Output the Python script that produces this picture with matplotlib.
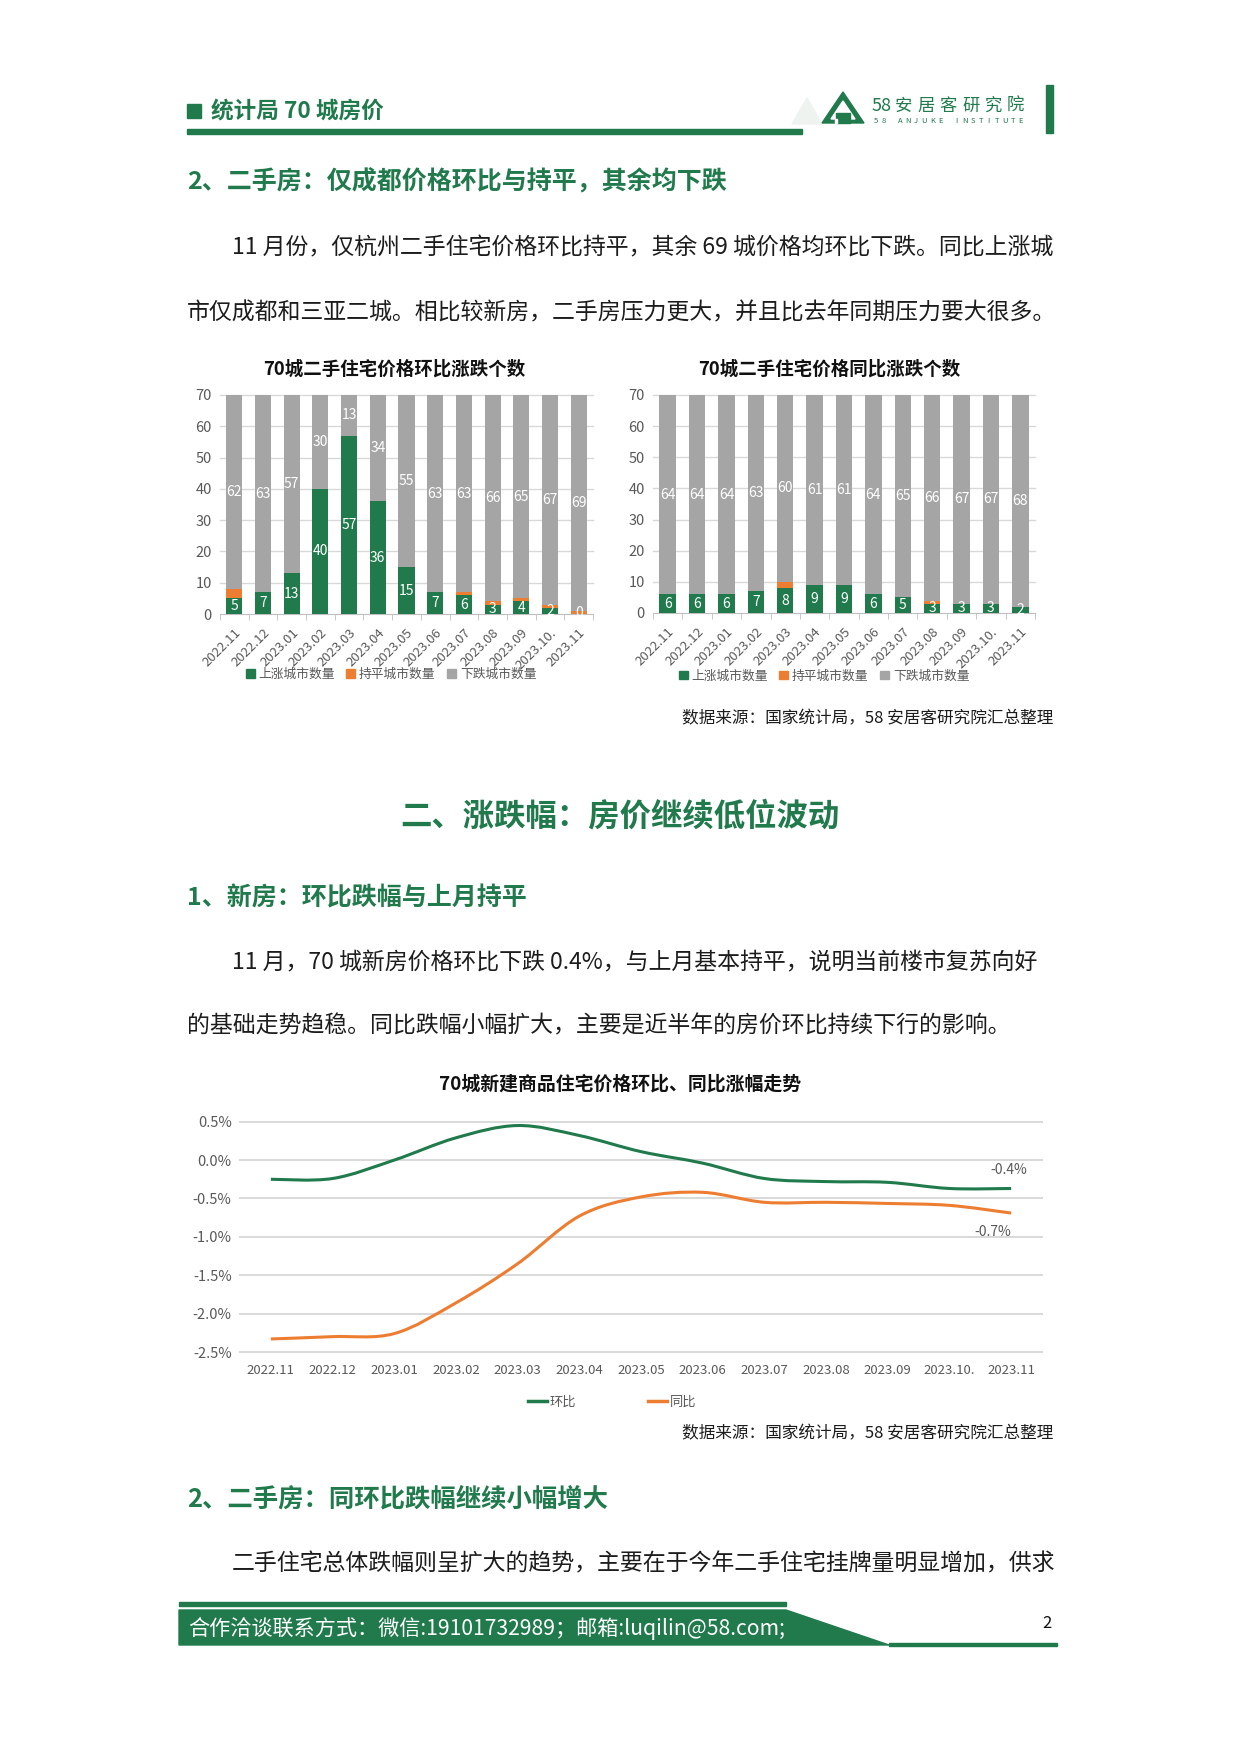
import numpy as np
import matplotlib
matplotlib.use("Agg")
import matplotlib.pyplot as plt
from matplotlib.path import Path
from matplotlib.patches import PathPatch, Polygon, Rectangle, Patch
from matplotlib.lines import Line2D

plt.rcParams['font.family'] = ['Noto Sans CJK SC', 'DejaVu Sans']

# ---- data -------------------------------------------------------------
months = ['2022.11', '2022.12', '2023.01', '2023.02', '2023.03', '2023.04', '2023.05',
          '2023.06', '2023.07', '2023.08', '2023.09', '2023.10.', '2023.11']

# 二手住宅 环比 涨跌个数
mom_up = [5, 7, 13, 40, 57, 36, 15, 7, 6, 3, 4, 2, 0]
mom_flat = [3, 0, 0, 0, 0, 0, 0, 0, 1, 1, 1, 1, 1]
mom_down = [62, 63, 57, 30, 13, 34, 55, 63, 63, 66, 65, 67, 69]

# 二手住宅 同比 涨跌个数
yoy_up = [6, 6, 6, 7, 8, 9, 9, 6, 5, 3, 3, 3, 2]
yoy_flat = [0, 0, 0, 0, 2, 0, 0, 0, 0, 1, 0, 0, 0]
yoy_down = [64, 64, 64, 63, 60, 61, 61, 64, 65, 66, 67, 67, 68]

# 新建商品住宅 涨幅 (%)
new_mom = [-0.25, -0.24, 0.0, 0.29, 0.45, 0.32, 0.11, -0.04, -0.24, -0.28, -0.29, -0.37, -0.37]
new_yoy = [-2.33, -2.30, -2.26, -1.86, -1.35, -0.73, -0.48, -0.42, -0.55, -0.55, -0.565, -0.59, -0.69]

bar_legend = ['上涨城市数量', '持平城市数量', '下跌城市数量']
line_legend = ['环比', '同比']

# ---- styles -----------------------------------------------------------
GREEN = '#207a4c'
ORANGE = '#ed7d31'
GRAY = '#a5a5a5'
TXT = '#1c1c1c'
AXT = '#595959'
GRID = '#d9d9d9'
W, H = 1240, 1753

fig = plt.figure(figsize=(W / 100, H / 100), dpi=100)
page = fig.add_axes([0, 0, 1, 1], zorder=0)
page.set_xlim(0, W)
page.set_ylim(H, 0)
page.axis('off')


def box(left, top, right, bottom):
    return [left / W, 1 - bottom / H, (right - left) / W, (bottom - top) / H]


def txt(x, y, s, size, color=TXT, ha='left', weight='normal', **kw):
    page.text(x, y, s, fontsize=size, color=color, ha=ha, va='center', fontweight=weight, **kw)


# ---- header -----------------------------------------------------------
page.add_patch(Rectangle((187, 104), 14, 14, color=GREEN))
txt(211, 111, '统计局 70 城房价', 16.3, GREEN, weight='bold')
page.add_patch(Rectangle((187, 129), 615, 4.5, color=GREEN))
page.add_patch(Rectangle((1046, 85), 7, 48, color=GREEN))

# logo
page.add_patch(Polygon([(792, 124), (807, 98), (822, 124)], closed=True, color='#eef3f0'))
page.add_patch(Polygon([(822, 123), (843, 92), (864, 123)], closed=True, color=GREEN))
page.add_patch(Polygon([(831, 119), (843, 101), (855, 119)], closed=True, color='white'))
page.add_patch(Rectangle((836, 113), 14, 10, color=GREEN))
page.add_patch(Rectangle((835, 119), 2, 4, color='white'))
page.text(872, 106, '58', fontsize=13, color=GREEN, ha='left', va='center')
for k, ch in enumerate('安居客研究院'):
    page.text(903.5 + 22.4 * k, 106, ch, fontsize=12.5, color=GREEN, ha='center', va='center')
for k, ch in enumerate('58 ANJUKE INSTITUTE'):
    page.text(876 + 8.05 * k, 121, ch, fontsize=5.5, color=GREEN, ha='center', va='center')

# ---- text blocks ------------------------------------------------------
txt(187, 182, '2、二手房：仅成都价格环比与持平，其余均下跌', 18, GREEN, weight='bold')
txt(232, 248, '11 月份，仅杭州二手住宅价格环比持平，其余 69 城价格均环比下跌。同比上涨城', 16.5)
txt(187, 313, '市仅成都和三亚二城。相比较新房，二手房压力更大，并且比去年同期压力要大很多。', 16.5)

txt(394, 369, '70城二手住宅价格环比涨跌个数', 13.3, '#111111', ha='center', weight='bold')
txt(829, 369, '70城二手住宅价格同比涨跌个数', 13.3, '#111111', ha='center', weight='bold')
txt(1053, 719, '数据来源：国家统计局，58 安居客研究院汇总整理', 12, TXT, ha='right')

txt(620, 816, '二、涨跌幅：房价继续低位波动', 22.6, GREEN, ha='center', weight='bold')
txt(187, 898, '1、新房：环比跌幅与上月持平', 18, GREEN, weight='bold')
txt(232, 963, '11 月，70 城新房价格环比下跌 0.4%，与上月基本持平，说明当前楼市复苏向好', 16.5)
txt(187, 1026, '的基础走势趋稳。同比跌幅小幅扩大，主要是近半年的房价环比持续下行的影响。', 16.5)
txt(620, 1084, '70城新建商品住宅价格环比、同比涨幅走势', 13.6, '#111111', ha='center', weight='bold')
txt(1053, 1434, '数据来源：国家统计局，58 安居客研究院汇总整理', 12, TXT, ha='right')
txt(187, 1499, '2、二手房：同环比跌幅继续小幅增大', 18.3, GREEN, weight='bold')
txt(232, 1564, '二手住宅总体跌幅则呈扩大的趋势，主要在于今年二手住宅挂牌量明显增加，供求', 16.5)

# ---- footer -----------------------------------------------------------
page.add_patch(Rectangle((179, 1602), 607, 3.5, color=GREEN))
page.add_patch(Polygon([(179, 1610), (786, 1610), (889, 1645), (179, 1645)], closed=True, color=GREEN))
page.add_patch(Rectangle((889, 1643), 168, 2.5, color=GREEN))
txt(188, 1629, '合作洽谈联系方式：微信:19101732989；邮箱:luqilin@58.com;', 15.2, 'white')
txt(1047, 1624, '2', 12, '#111111', ha='center')


# ---- bar charts -------------------------------------------------------
def bar_panel(rect, up, flat, down, label_zero, legend_center):
    ax = fig.add_axes(rect, zorder=2)
    ax.set_facecolor('none')
    x = np.arange(len(months))
    up = np.array(up)
    flat = np.array(flat)
    down = np.array(down)
    ax.bar(x, up, 0.56, color=GREEN, zorder=3)
    ax.bar(x, flat, 0.56, bottom=up, color=ORANGE, zorder=3)
    ax.bar(x, down, 0.56, bottom=up + flat, color=GRAY, zorder=3)
    for i in x:
        if up[i] > 0 or label_zero:
            ax.text(i, max(up[i] / 2, 0.4), str(up[i]), color='white', fontsize=10,
                    ha='center', va='center', zorder=4)
        ax.text(i, up[i] + flat[i] + down[i] / 2, str(down[i]), color='white', fontsize=10,
                ha='center', va='center', zorder=4)
    ax.set_xlim(-0.5, len(months) - 0.5)
    ax.set_ylim(0, 70)
    ax.set_yticks(range(0, 71, 10))
    for v in range(10, 71, 10):
        ax.axhline(v, color=GRID, lw=1, zorder=1, clip_on=False)
    for s in ['top', 'right', 'left']:
        ax.spines[s].set_visible(False)
    ax.spines['bottom'].set_color('#bfbfbf')
    ax.set_xticks(x)
    ax.set_xticklabels(months, rotation=45, ha='right', va='top', rotation_mode='anchor',
                       fontsize=9.5, color=AXT)
    ax.set_xticks(np.arange(-0.5, len(months), 1), minor=True)
    ax.tick_params(axis='x', which='major', length=0, pad=9)
    ax.tick_params(axis='x', which='minor', length=4, color='#bfbfbf')
    ax.tick_params(axis='y', length=0, labelsize=10.5, labelcolor=AXT, pad=6)
    handles = [Patch(color=GREEN), Patch(color=ORANGE), Patch(color=GRAY)]
    ax.legend(handles, bar_legend, ncol=3, loc='center', frameon=False,
              bbox_to_anchor=(legend_center[0] / W, 1 - legend_center[1] / H),
              bbox_transform=fig.transFigure, fontsize=9.2, labelcolor=AXT,
              handlelength=0.7, handleheight=0.7, handletextpad=0.3, columnspacing=0.9)
    return ax


bar_panel(box(220, 395, 593, 614), mom_up, mom_flat, mom_down, True, (391, 674))
bar_panel(box(653, 395, 1035, 613), yoy_up, yoy_flat, yoy_down, False, (824, 676))


# ---- line chart -------------------------------------------------------
def smooth_path(xs, ys):
    pts = np.column_stack([xs, ys]).astype(float)
    n = len(pts)
    verts = [pts[0]]
    codes = [Path.MOVETO]
    for i in range(n - 1):
        p0 = pts[i - 1] if i > 0 else pts[i]
        p1 = pts[i]
        p2 = pts[i + 1]
        p3 = pts[i + 2] if i + 2 < n else pts[i + 1]
        verts += [p1 + (p2 - p0) / 6, p2 - (p3 - p1) / 6, p2]
        codes += [Path.CURVE4] * 3
    return Path(verts, codes)


lx = box(240, 1121.7, 1042, 1352)
ax = fig.add_axes(lx, zorder=2)
ax.set_facecolor('none')
x = np.arange(len(months))
ax.add_patch(PathPatch(smooth_path(x, new_mom), fill=False, edgecolor=GREEN, lw=2.2, zorder=3))
ax.add_patch(PathPatch(smooth_path(x, new_yoy), fill=False, edgecolor=ORANGE, lw=2.2, zorder=3))
ax.set_xlim(-0.5, len(months) - 0.5)
ax.set_ylim(-2.5, 0.5)
yt = np.arange(-2.5, 0.51, 0.5)
ax.set_yticks(yt)
ax.set_yticklabels(['%.1f%%' % v for v in yt])
for v in yt:
    ax.axhline(v, color=GRID, lw=1.4, zorder=1, clip_on=False)
for s in ax.spines.values():
    s.set_visible(False)
ax.set_xticks(x)
ax.set_xticklabels(months, fontsize=9.5, color=AXT)
ax.tick_params(axis='x', length=0, pad=9)
ax.tick_params(axis='y', length=0, labelsize=10.5, labelcolor=AXT, pad=6)
ax.annotate('-0.4%', (x[-1], new_mom[-1]), xytext=(-2, 13), textcoords='offset points',
            ha='center', va='center', fontsize=10, color=AXT)
ax.annotate('-0.7%', (x[-1], new_yoy[-1]), xytext=(-13, -14), textcoords='offset points',
            ha='center', va='center', fontsize=10, color=AXT)
ax.legend([Line2D([], [], color=GREEN, lw=2.5), Line2D([], [], color=ORANGE, lw=2.5)],
          line_legend, ncol=2, loc='center', frameon=False,
          bbox_to_anchor=(612 / W, 1 - 1402 / H), bbox_transform=fig.transFigure,
          fontsize=9.5, labelcolor=AXT, handlelength=1.4, handletextpad=0.2, columnspacing=5.5)

fig.savefig('out.png', dpi=100)
